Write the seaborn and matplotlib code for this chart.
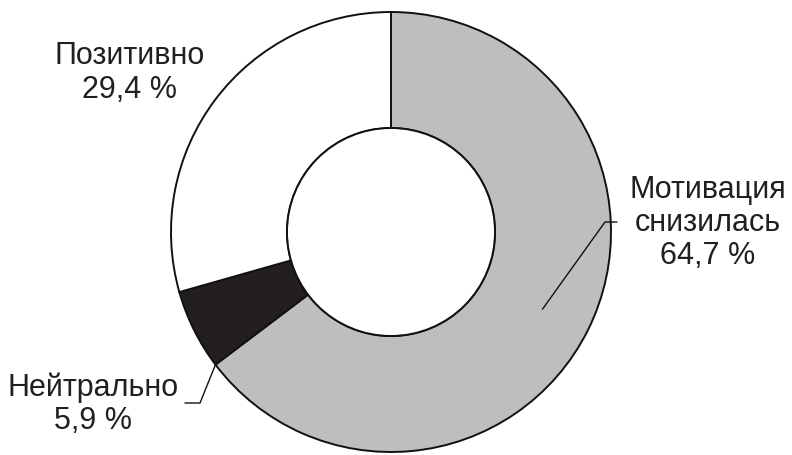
import numpy as np
import matplotlib
matplotlib.use("Agg")
import matplotlib.pyplot as plt
import seaborn as sns

# data
categories = ["Мотивация\nснизилась", "Нейтрально", "Позитивно"]
shares = [64.7, 5.9, 29.4]
colors = ["#bdbec0", "#231f20", "#ffffff"]

sns.set_theme(style="white")
plt.rcParams["font.family"] = ["Liberation Sans", "DejaVu Sans"]

W, H = 792, 455
fig = plt.figure(figsize=(W / 100, H / 100), dpi=100)
ax = fig.add_axes([0, 0, 1, 1])

cx, cy = 391, H - 232
R, r_in = 220, 104

wedges, _ = ax.pie(shares, colors=colors, startangle=90, counterclock=False,
                   center=(cx, cy), radius=R,
                   wedgeprops=dict(width=R - r_in, edgecolor="#111111", linewidth=1.4))
ax.add_patch(plt.Circle((cx, cy), r_in, facecolor="white", edgecolor="#111111", linewidth=1.4))

ax.set_xlim(0, W)
ax.set_ylim(0, H)
ax.set_aspect("equal")
ax.axis("off")

def lbl(i):
    return f"{categories[i]}\n{shares[i]:.1f} %".replace(".", ",")

def polar(ang, rad):
    a = np.deg2rad(ang)
    return cx + rad * np.cos(a), cy + rad * np.sin(a)

# text labels
fs = 22
kw = dict(ha="center", va="center", fontsize=fs, color="#231f20", linespacing=1.15)
ax.text(708, H - 223, lbl(0), **kw)
ax.text(93, H - 404, lbl(1), **kw)
ax.text(130, H - 73, lbl(2), **kw)

# leader lines
lw = 1.0
# gray slice: from inside the wedge up to the label
x0, y0 = polar(-27, 170)
x1, y1 = 605, H - 222
ax.plot([x0, x1, 617], [y0, y1, y1], color="#111111", lw=lw)
# black slice: from the black/gray boundary on the outer edge
ang = wedges[1].theta2
x0, y0 = polar(ang, R)
ax.plot([x0, 200, 185], [y0, H - 403, H - 403], color="#111111", lw=lw)

fig.savefig("out.png", dpi=100, facecolor="white")
